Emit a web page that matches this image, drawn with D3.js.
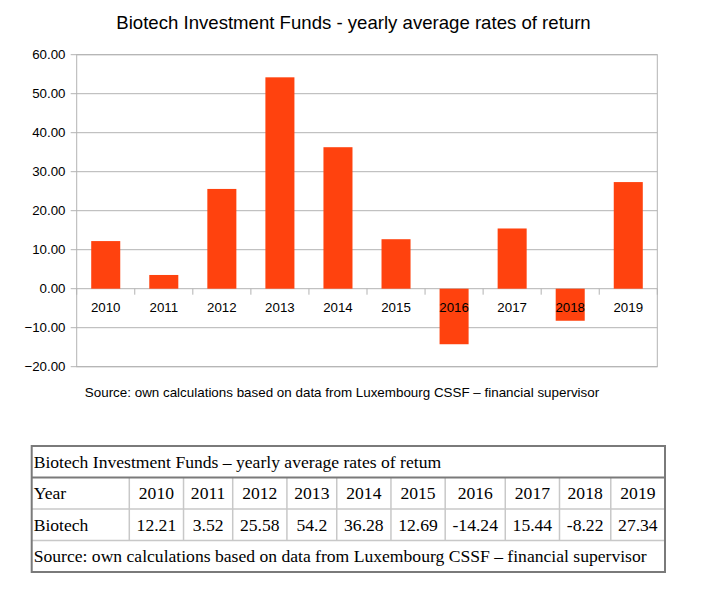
<!DOCTYPE html>
<html>
<head>
<meta charset="utf-8">
<script src="https://cdn.jsdelivr.net/npm/d3@7"></script>
<style>
    body { margin: 0; background: #fff; }
    svg { display: block; }
</style>
</head>
<body>
<svg id="chart" width="704" height="603"></svg>
<script>
// data
var years = ["2010", "2011", "2012", "2013", "2014", "2015", "2016", "2017", "2018", "2019"];
var returns = [12.21, 3.52, 25.58, 54.2, 36.28, 12.69, -14.24, 15.44, -8.22, 27.34];
var returnLabels = ["12.21", "3.52", "25.58", "54.2", "36.28", "12.69", "-14.24", "15.44", "-8.22", "27.34"];
var yTicks = [-20, -10, 0, 10, 20, 30, 40, 50, 60];

var chartTitle = "Biotech Investment Funds - yearly average rates of return";
var chartSource = "Source: own calculations based on data from Luxembourg CSSF \u2013 financial supervisor";
var tableTitle = "Biotech Investment Funds \u2013 yearly average rates of retum";
var tableSource = "Source: own calculations based on data from Luxembourg CSSF \u2013 financial supervisor";
var rowNames = ["Year", "Biotech"];

var svg = d3.select("#chart");
const plot = {left: 76.7, right: 657.3, top: 54.7, bottom: 366.7};
const barColor = "#ff420e";
const gridColor = "#b3b3b3";
const sansFont = "'Liberation Sans', Arial, sans-serif";
const serifFont = "'Liberation Serif', 'Times New Roman', serif";

function build_bar_chart() {
    var xScale = d3.scaleBand()
        .domain(years)
        .range([plot.left, plot.right])
        .paddingInner(0.5)
        .paddingOuter(0.25);
    var yScale = d3.scaleLinear()
        .domain([d3.min(yTicks), d3.max(yTicks)])
        .range([plot.bottom, plot.top]);

    svg.append("text")
        .attr("x", 353.5)
        .attr("y", 29)
        .attr("text-anchor", "middle")
        .style("font-family", sansFont)
        .style("font-size", "18.6px")
        .text(chartTitle);

    // grid lines
    svg.append("g").selectAll("line")
        .data(yTicks).enter()
        .append("line")
        .attr("x1", plot.left - 6)
        .attr("x2", plot.right)
        .attr("y1", d => yScale(d))
        .attr("y2", d => yScale(d))
        .attr("stroke", gridColor)
        .attr("stroke-width", 1);

    svg.append("rect")
        .attr("x", plot.left)
        .attr("y", plot.top)
        .attr("width", plot.right - plot.left)
        .attr("height", plot.bottom - plot.top)
        .attr("fill", "none")
        .attr("stroke", gridColor)
        .attr("stroke-width", 1);

    svg.append("g").selectAll("text")
        .data(yTicks).enter()
        .append("text")
        .attr("x", 65.5)
        .attr("y", d => yScale(d) + 4.5)
        .attr("text-anchor", "end")
        .style("font-family", sansFont)
        .style("font-size", "13.3px")
        .text(d => d3.format(".2f")(d));

    // bars
    svg.append("g").selectAll("rect")
        .data(years.map((y, i) => ({year: y, value: returns[i]}))).enter()
        .append("rect")
        .attr("x", d => xScale(d.year))
        .attr("width", xScale.bandwidth())
        .attr("y", d => yScale(Math.max(0, d.value)))
        .attr("height", d => Math.abs(yScale(d.value) - yScale(0)))
        .attr("fill", barColor);

    // category ticks on the zero line
    var step = xScale.step();
    var boundaries = years.map(y => xScale(y) - (step - xScale.bandwidth()) / 2);
    boundaries.push(plot.right);
    svg.append("g").selectAll("line")
        .data(boundaries).enter()
        .append("line")
        .attr("x1", d => d)
        .attr("x2", d => d)
        .attr("y1", yScale(0))
        .attr("y2", yScale(0) + 6)
        .attr("stroke", gridColor);

    svg.append("g").selectAll("text")
        .data(years).enter()
        .append("text")
        .attr("x", d => xScale(d) + xScale.bandwidth() / 2)
        .attr("y", yScale(0) + 23)
        .attr("text-anchor", "middle")
        .style("font-family", sansFont)
        .style("font-size", "13.3px")
        .text(d => d);

    svg.append("text")
        .attr("x", 342)
        .attr("y", 396.5)
        .attr("text-anchor", "middle")
        .style("font-family", sansFont)
        .style("font-size", "13.4px")
        .text(chartSource);
}

function build_table() {
    const table = {left: 31.7, right: 665, top: 446, rowHeight: 31.5, firstCol: 97.6};
    const fontSize = "17.6px";
    var g = svg.append("g");

    // measure the widest text of each year column
    var measure = g.append("text").style("font-family", serifFont).style("font-size", fontSize);
    var contentWidths = years.map(function(y, i) {
        var w1 = measure.text(y).node().getComputedTextLength();
        var w2 = measure.text(returnLabels[i]).node().getComputedTextLength();
        return Math.max(w1, w2);
    });
    measure.remove();
    var extra = (table.right - table.left - table.firstCol - d3.sum(contentWidths)) / years.length;
    var colEdges = [table.left, table.left + table.firstCol];
    contentWidths.forEach(w => colEdges.push(colEdges[colEdges.length - 1] + w + extra));

    var rowY = d3.range(5).map(i => table.top + i * table.rowHeight);
    var bottom = rowY[4];

    // inner light lines
    var inner = g.append("g").attr("stroke", "#c8c8c8").attr("stroke-width", 1.5);
    inner.selectAll("line.h")
        .data([rowY[2], rowY[3]]).enter()
        .append("line")
        .attr("x1", table.left).attr("x2", table.right)
        .attr("y1", d => d).attr("y2", d => d);
    inner.selectAll("line.v")
        .data(colEdges.slice(1)).enter()
        .append("line")
        .attr("x1", d => d).attr("x2", d => d)
        .attr("y1", rowY[1]).attr("y2", rowY[3]);

    // outer darker border
    var outer = g.append("g").attr("stroke", "#7a7a7a").attr("stroke-width", 2).attr("fill", "none");
    outer.append("line")
        .attr("x1", table.left).attr("x2", table.right)
        .attr("y1", rowY[1]).attr("y2", rowY[1]);
    outer.append("rect")
        .attr("x", table.left).attr("y", table.top)
        .attr("width", table.right - table.left)
        .attr("height", bottom - table.top);

    function cellText(x, y, anchor, txt) {
        g.append("text")
            .attr("x", x)
            .attr("y", y)
            .attr("text-anchor", anchor)
            .style("font-family", serifFont)
            .style("font-size", fontSize)
            .text(txt);
    }
    const baseline = 21.5;
    cellText(table.left + 2, rowY[0] + baseline, "start", tableTitle);
    cellText(table.left + 2, rowY[1] + baseline, "start", rowNames[0]);
    cellText(table.left + 2, rowY[2] + baseline, "start", rowNames[1]);
    years.forEach(function(y, i) {
        var cx = (colEdges[i + 1] + colEdges[i + 2]) / 2;
        cellText(cx, rowY[1] + baseline, "middle", y);
        cellText(cx, rowY[2] + baseline, "middle", returnLabels[i]);
    });
    cellText(table.left + 2, rowY[3] + baseline, "start", tableSource);
}

build_bar_chart();
build_table();
</script>
</body>
</html>
